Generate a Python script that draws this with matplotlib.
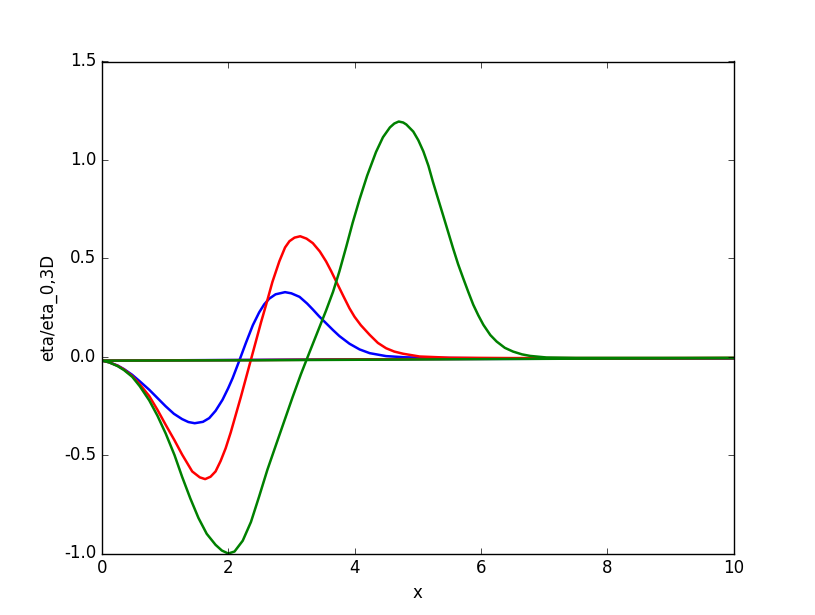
import matplotlib
matplotlib.use("Agg")
import matplotlib.pyplot as plt

plt.style.use("classic")
plt.rcParams["axes.unicode_minus"] = False

# curves
x_blue = [0.0, 0.11, 0.25, 0.35, 0.48, 0.60, 0.75, 0.88, 1.01, 1.14, 1.27, 1.37, 1.47,
          1.60, 1.70, 1.80, 1.91, 2.00, 2.07, 2.17, 2.28, 2.39, 2.49, 2.57, 2.65, 2.75,
          2.90, 3.00, 3.13, 3.25, 3.34, 3.44, 3.55, 3.66, 3.76, 3.92, 4.08, 4.24, 4.50,
          4.80, 5.20, 6.0, 8.0, 10.0]
y_blue = [-0.02, -0.028, -0.045, -0.063, -0.092, -0.125, -0.168, -0.21, -0.252, -0.29,
          -0.317, -0.332, -0.338, -0.331, -0.312, -0.275, -0.219, -0.16, -0.109, -0.025,
          0.07, 0.16, 0.225, 0.266, 0.295, 0.317, 0.328, 0.322, 0.304, 0.27, 0.24,
          0.205, 0.17, 0.135, 0.105, 0.066, 0.037, 0.018, 0.003, -0.003, -0.006,
          -0.008, -0.008, -0.008]

x_red = [0.0, 0.11, 0.25, 0.35, 0.48, 0.60, 0.75, 0.88, 1.01, 1.15, 1.27, 1.43, 1.55,
         1.635, 1.72, 1.80, 1.88, 1.96, 2.04, 2.12, 2.20, 2.28, 2.36, 2.44, 2.52, 2.60,
         2.70, 2.81, 2.90, 2.97, 3.05, 3.14, 3.24, 3.34, 3.45, 3.55, 3.63, 3.71, 3.82,
         3.92, 4.00, 4.10, 4.24, 4.37, 4.50, 4.63, 4.77, 5.03, 5.50, 6.50, 8.0, 10.0]
y_red = [-0.02, -0.028, -0.046, -0.065, -0.098, -0.14, -0.2, -0.27, -0.346, -0.425,
         -0.497, -0.583, -0.613, -0.622, -0.61, -0.583, -0.53, -0.465, -0.385, -0.295,
         -0.205, -0.11, -0.015, 0.08, 0.175, 0.264, 0.38, 0.485, 0.555, 0.587, 0.605,
         0.612, 0.6, 0.577, 0.535, 0.484, 0.435, 0.382, 0.31, 0.246, 0.203, 0.16,
         0.111, 0.07, 0.043, 0.026, 0.015, 0.001, -0.005, -0.007, -0.007, -0.007]

x_green = [0.0, 0.11, 0.25, 0.35, 0.48, 0.60, 0.75, 0.88, 1.01, 1.15, 1.27, 1.40, 1.53,
           1.66, 1.80, 1.90, 2.00, 2.10, 2.23, 2.36, 2.49, 2.62, 2.76, 2.89, 3.02, 3.15,
           3.29, 3.42, 3.55, 3.66, 3.76, 3.87, 3.97, 4.08, 4.20, 4.34, 4.45, 4.56, 4.63,
           4.70, 4.77, 4.82, 4.93, 5.01, 5.09, 5.17, 5.24, 5.32, 5.40, 5.48, 5.56, 5.64,
           5.72, 5.80, 5.88, 5.96, 6.04, 6.15, 6.25, 6.38, 6.51, 6.65, 6.78, 7.04, 7.50,
           8.50, 10.0]
y_green = [-0.02, -0.028, -0.048, -0.068, -0.102, -0.15, -0.222, -0.3, -0.39, -0.5,
           -0.61, -0.72, -0.82, -0.9, -0.956, -0.985, -1.0, -0.99, -0.935, -0.84, -0.71,
           -0.575, -0.445, -0.325, -0.205, -0.09, 0.025, 0.13, 0.235, 0.33, 0.433, 0.56,
           0.68, 0.8, 0.92, 1.04, 1.115, 1.165, 1.185, 1.195, 1.19, 1.18, 1.144, 1.1,
           1.043, 0.97, 0.89, 0.805, 0.721, 0.636, 0.551, 0.47, 0.399, 0.33, 0.264, 0.21,
           0.162, 0.11, 0.077, 0.045, 0.026, 0.012, 0.004, -0.004, -0.006, -0.006, -0.006]

# near-zero reference lines
x_flat = [0.0, 2.5, 5.0, 7.5, 10.0]
y_flat_blue = [-0.02, -0.016, -0.012, -0.01, -0.008]
y_flat_red = [-0.02, -0.017, -0.012, -0.009, -0.007]
y_flat_green = [-0.02, -0.018, -0.014, -0.01, -0.007]

fig = plt.figure(figsize=(8.15, 6.15), dpi=100)
ax = fig.add_subplot(111)

ax.plot(x_flat, y_flat_blue, color="b", lw=1.8)
ax.plot(x_blue, y_blue, color="b", lw=1.8)
ax.plot(x_flat, y_flat_red, color="r", lw=1.8)
ax.plot(x_red, y_red, color="r", lw=1.8)
ax.plot(x_green, y_green, color="g", lw=1.8)
ax.plot(x_flat, y_flat_green, color="g", lw=1.8)

ax.set_xlim(0, 10)
ax.set_ylim(-1.0, 1.5)
ax.set_xlabel("x")
ax.set_ylabel("eta/eta_0,3D")

fig.savefig("out.png", dpi=100)
